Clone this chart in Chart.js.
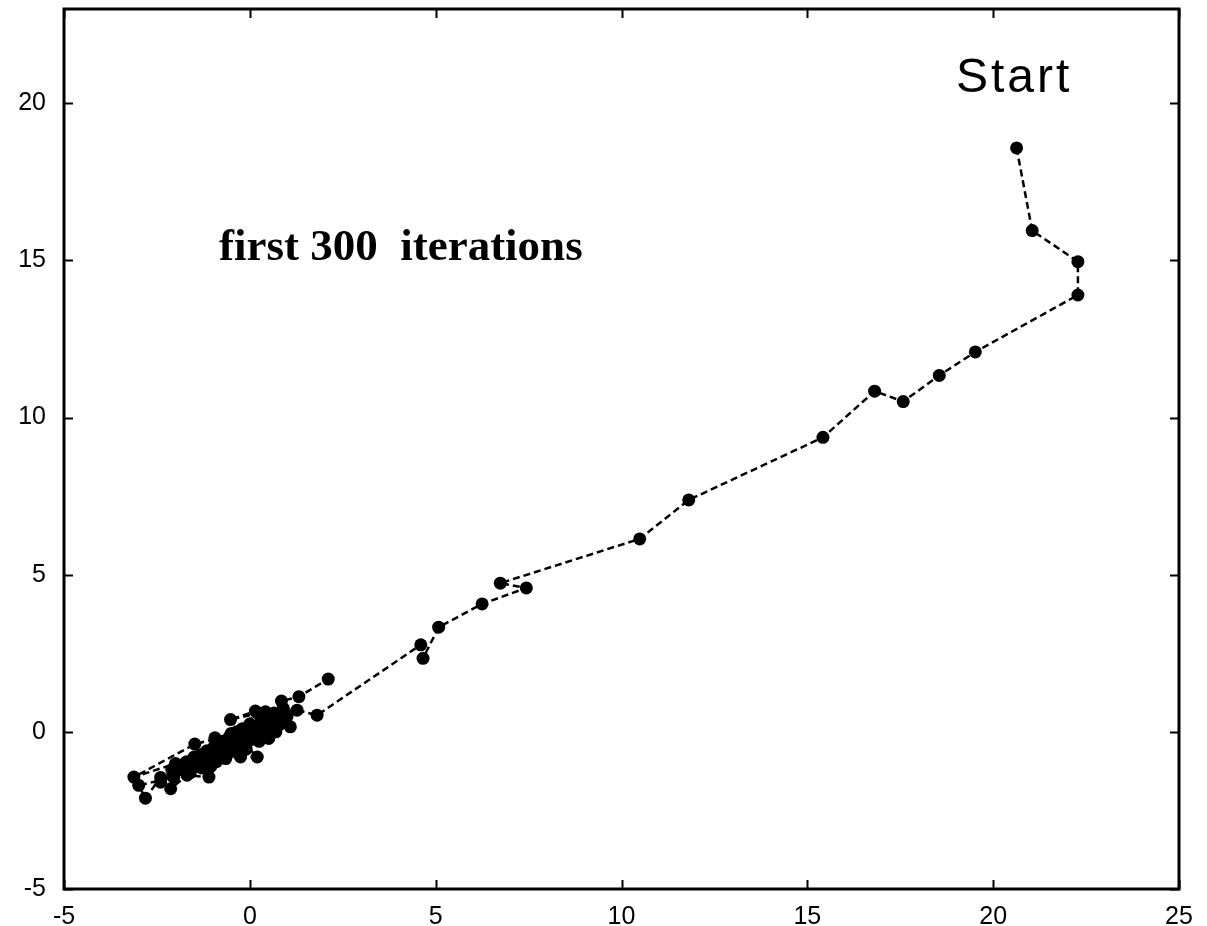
<!DOCTYPE html>
<html>
<head>
<meta charset="utf-8">
<script src="https://cdn.jsdelivr.net/npm/chart.js@4.4.0/dist/chart.umd.min.js"></script>
<style>
  html, body { margin: 0; padding: 0; background: #fff; }
  #wrap { width: 1207px; height: 926px; position: relative; }
</style>
</head>
<body>
<div id="wrap"><canvas id="chart"></canvas></div>
<script>
// tick labels
const xTickValues = [-5, 0, 5, 10, 15, 20, 25];
const yTickValues = [-5, 0, 5, 10, 15, 20];

// iteration path (start at the top right)
const pathX = [
  20.63, 21.05, 22.28, 22.28, 19.52, 18.55, 17.58, 16.81, 15.42, 11.81,
  10.49, 6.74, 7.44, 6.25, 5.08, 4.66, 4.60,
  1.81, 1.27, 0.42, -0.52, 0.15, -0.25, -1.48, -3.12, -2.00, -1.35,
  -0.94, -0.60, -1.10, -1.69, -2.13, -2.40, -1.80, -1.20, -0.70, -0.30,
  0.20, -0.25, -0.85, -1.55, -2.05, -2.99, -2.81, -2.40, -1.90, -1.40,
  -0.90, -0.40, 0.10, 0.51, 0.78, 1.09, 0.60, 0.10, -0.45, -1.00,
  -1.45, -1.75, -1.30, -0.80, -0.20, 0.35, 0.85, 0.40, -0.10, -0.65,
  -1.15, -0.55, 0.00, 0.55, 0.90, 0.30, -0.20, -0.75, -1.25, -1.70,
  -1.05, -0.35, 0.25, 0.70, 0.95, 0.45, -0.05, -0.50, -0.95, -1.50,
  -2.10, -1.60, -0.90, -0.30, 0.20, 0.65, 0.20, -0.35, -0.80, -1.20,
  -0.60, 0.00, 0.50, 1.00, 0.85, 1.32, 2.11
];
const pathY = [
  18.58, 15.95, 14.96, 13.90, 12.09, 11.34, 10.51, 10.84, 9.37, 7.38,
  6.14, 4.73, 4.58, 4.07, 3.33, 2.34, 2.77,
  0.53, 0.69, 0.64, 0.39, 0.66, -0.02, -0.39, -1.44, -1.01, -0.75,
  -0.19, -0.45, -1.44, -1.38, -1.81, -1.60, -1.05, -0.95, -0.60, -0.20,
  -0.80, -0.80, -0.55, -1.10, -1.45, -1.70, -2.11, -1.45, -1.20, -0.90,
  -0.70, -0.30, 0.05, -0.21, 0.21, 0.16, 0.30, -0.10, -0.50, -0.80,
  -1.00, -1.25, -1.15, -0.35, -0.35, 0.20, 0.45, -0.05, -0.55, -0.85,
  -0.60, -0.15, 0.25, 0.55, 0.75, 0.35, 0.10, -0.30, -0.70, -0.95,
  -1.10, -0.65, -0.30, 0.00, 0.30, 0.40, -0.10, -0.05, -0.45, -0.80,
  -1.20, -1.30, -0.95, -0.45, 0.15, 0.60, 0.60, 0.00, -0.60, -0.85,
  -0.70, -0.25, 0.10, 0.50, 0.98, 1.12, 1.68
];

const points = pathX.map((x, i) => ({ x: x, y: pathY[i] }));

// box around the plot + inward tick marks on all four sides + the two labels
const frameAndTicks = {
  id: 'frameAndTicks',
  afterDraw(chart) {
    const ctx = chart.ctx;
    const a = chart.chartArea;
    const xs = chart.scales.x, ys = chart.scales.y;
    ctx.save();
    ctx.strokeStyle = '#000';
    ctx.lineWidth = 2;
    xTickValues.forEach(v => {
      const px = Math.round(xs.getPixelForValue(v)) + 0.5;
      ctx.beginPath();
      ctx.moveTo(px, a.bottom); ctx.lineTo(px, a.bottom - 9);
      ctx.moveTo(px, a.top); ctx.lineTo(px, a.top + 9);
      ctx.stroke();
    });
    yTickValues.forEach(v => {
      const py = Math.round(ys.getPixelForValue(v)) + 0.5;
      ctx.beginPath();
      ctx.moveTo(a.left, py); ctx.lineTo(a.left + 9, py);
      ctx.moveTo(a.right, py); ctx.lineTo(a.right - 9, py);
      ctx.stroke();
    });
    ctx.lineWidth = 3;
    ctx.strokeRect(a.left, a.top, a.right - a.left, a.bottom - a.top);

    ctx.fillStyle = '#000';
    ctx.textBaseline = 'alphabetic';
    ctx.textAlign = 'left';
    ctx.font = '48px "Liberation Sans", Arial, sans-serif';
    ctx.letterSpacing = '3px';
    ctx.fillText('Start', xs.getPixelForValue(19.0), ys.getPixelForValue(20.35));
    ctx.letterSpacing = '0px';
    ctx.font = 'bold 45px "Liberation Serif", "Times New Roman", serif';
    ctx.fillText('first 300  iterations', xs.getPixelForValue(-0.83), ys.getPixelForValue(15.0));
    ctx.restore();
  }
};

new Chart(document.getElementById('chart'), {
  type: 'scatter',
  data: {
    datasets: [{
      data: points,
      showLine: true,
      borderColor: '#000',
      borderWidth: 2.5,
      borderDash: [7, 4],
      pointRadius: 6.5,
      pointBackgroundColor: '#000',
      pointBorderWidth: 0,
      tension: 0
    }]
  },
  options: {
    responsive: true,
    maintainAspectRatio: false,
    animation: false,
    layout: { padding: { top: 9, right: 28, left: 0, bottom: 0 } },
    plugins: {
      legend: { display: false },
      tooltip: { enabled: false }
    },
    scales: {
      x: {
        type: 'linear',
        min: -5,
        max: 25,
        afterBuildTicks: s => { s.ticks = xTickValues.map(v => ({ value: v })); },
        afterFit: s => { s.height = 37; s.paddingLeft = 0; s.paddingRight = 0; },
        grid: { display: false, drawTicks: false },
        border: { display: false },
        ticks: {
          padding: 13,
          color: '#000',
          font: { family: '"Liberation Sans", Arial, sans-serif', size: 25 }
        }
      },
      y: {
        type: 'linear',
        min: -5,
        max: 23,
        afterBuildTicks: s => { s.ticks = yTickValues.map(v => ({ value: v })); },
        afterFit: s => { s.width = 64; s.paddingTop = 0; s.paddingBottom = 0; },
        grid: { display: false, drawTicks: false },
        border: { display: false },
        ticks: {
          padding: 18,
          color: '#000',
          font: { family: '"Liberation Sans", Arial, sans-serif', size: 25 }
        }
      }
    }
  },
  plugins: [frameAndTicks]
});
</script>
</body>
</html>
